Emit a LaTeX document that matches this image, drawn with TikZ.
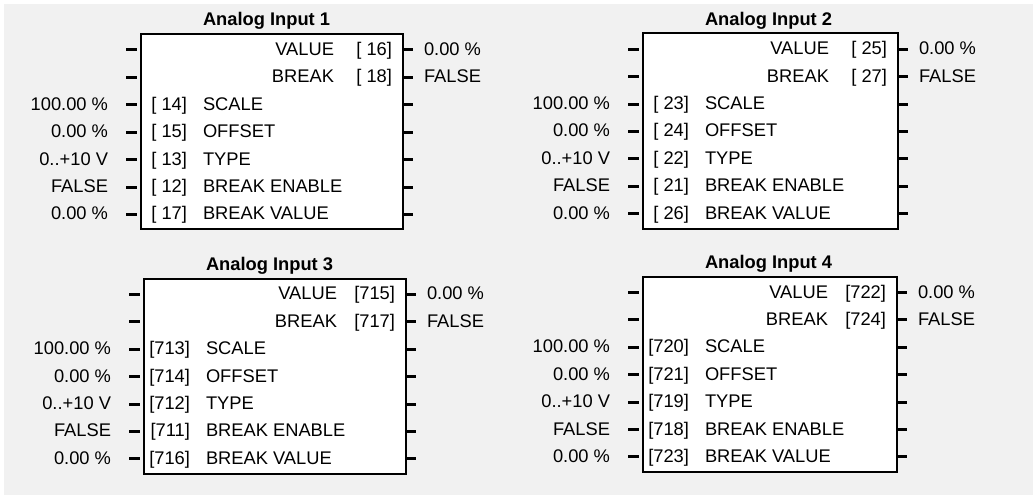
\documentclass[tikz,border=0pt]{standalone}
\usepackage{fontspec}
\setmainfont{Liberation Sans}
\definecolor{bggray}{HTML}{F1F1F1}
\tikzset{
  txt/.style={inner sep=0pt, outer sep=0pt, font=\fontsize{18.3}{22}\selectfont},
  ttl/.style={inner sep=0pt, outer sep=0pt, font=\fontsize{18.3}{22}\selectfont\bfseries},
  blockbox/.style={draw=black, line width=2pt, fill=white, inner sep=0pt, anchor=north west},
  stub/.style={draw=black, line width=3pt}
}
% #1 name, #2 L, #3 R, #4 T, #5 title, #6 outputs, #7 inputs
\newcommand{\AIblock}[7]{%
  \node[ttl, anchor=base west] (#1t) at (#2+63, #4-7.3) {#5};
  \node[blockbox, minimum width={#3-#2}, minimum height=195] (#1) at (#2,#4) {};
  \foreach \i in {0,...,6}{
    \coordinate (#1l\i) at (#2-14, #4+22.2+27.4*\i-5.5);
    \coordinate (#1r\i) at (#3, #4+22.2+27.4*\i-5.5);
    \draw[stub] (#1l\i) -- ++(11,0);
    \draw[stub] (#1r\i) -- ++(11,0);
  }
  \foreach \lb/\nm/\vl [count=\i from 0] in {#6}{
    \node[txt, anchor=base east] (#1ol\i) at (#3-68, #4+22.2+27.4*\i) {\lb};
    \node[txt, anchor=base east] (#1on\i) at (#3-10, #4+22.2+27.4*\i) {[\nm]};
    \node[txt, anchor=base west] (#1ov\i) at (#3+22, #4+22.2+27.4*\i) {\vl};
  }
  \foreach \vl/\nm/\lb [count=\i from 2] in {#7}{
    \node[txt, anchor=base east] (#1iv\i) at (#2-32, #4+22.2+27.4*\i) {\vl};
    \node[txt, anchor=base east] (#1in\i) at (#2+47, #4+22.2+27.4*\i) {[\nm]};
    \node[txt, anchor=base west] (#1il\i) at (#2+63, #4+22.2+27.4*\i) {\lb};
  }
}
\begin{document}
\begin{tikzpicture}[x=1pt, y=-1pt]
  \useasboundingbox (0,0) rectangle (1033,495);
  \fill[white] (0,0) rectangle (1033,495);
  \fill[bggray] (4,4) rectangle (1033,495);
  \AIblock{a}{140}{402}{33.3}{Analog Input 1}
    {VALUE/\ 16/0.00 \%, BREAK/\ 18/FALSE}
    {100.00 \%/\ 14/SCALE, 0.00 \%/\ 15/OFFSET, 0..+10 V/\ 13/TYPE, FALSE/\ 12/BREAK ENABLE, 0.00 \%/\ 17/BREAK VALUE}
  \AIblock{b}{642}{897}{32.5}{Analog Input 2}
    {VALUE/\ 25/0.00 \%, BREAK/\ 27/FALSE}
    {100.00 \%/\ 23/SCALE, 0.00 \%/\ 24/OFFSET, 0..+10 V/\ 22/TYPE, FALSE/\ 21/BREAK ENABLE, 0.00 \%/\ 26/BREAK VALUE}
  \AIblock{c}{143}{405}{277.7}{Analog Input 3}
    {VALUE/715/0.00 \%, BREAK/717/FALSE}
    {100.00 \%/713/SCALE, 0.00 \%/714/OFFSET, 0..+10 V/712/TYPE, FALSE/711/BREAK ENABLE, 0.00 \%/716/BREAK VALUE}
  \AIblock{d}{642}{896}{275.8}{Analog Input 4}
    {VALUE/722/0.00 \%, BREAK/724/FALSE}
    {100.00 \%/720/SCALE, 0.00 \%/721/OFFSET, 0..+10 V/719/TYPE, FALSE/718/BREAK ENABLE, 0.00 \%/723/BREAK VALUE}
\end{tikzpicture}
\end{document}
